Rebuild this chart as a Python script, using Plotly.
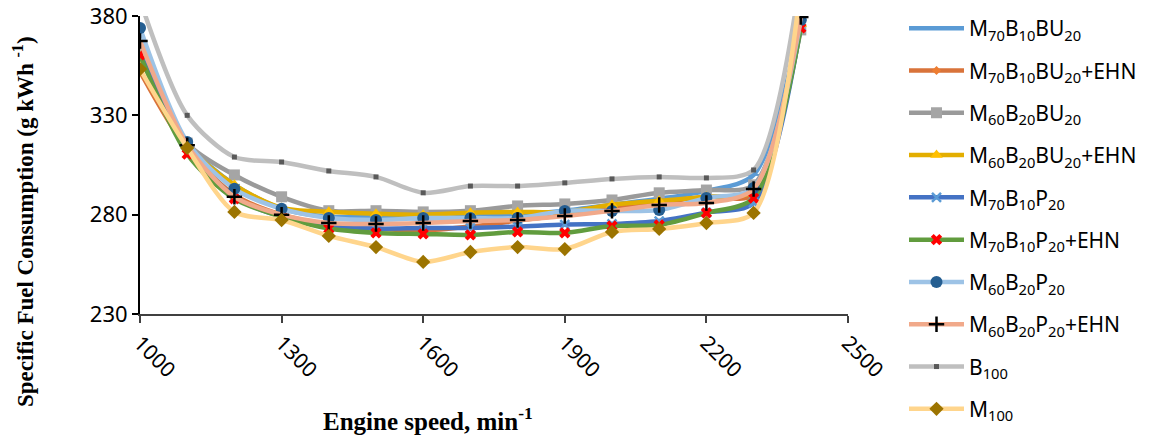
import plotly.graph_objects as go

speed = [1000, 1100, 1200, 1300, 1400, 1500, 1600, 1700, 1800, 1900, 2000, 2100, 2200, 2300, 2400]

m70b10bu20 = [364, 316, 295, 283, 279, 279, 278, 279, 280, 282, 285, 288, 292, 300, 378]
m70b10bu20_ehn = [352, 313, 290, 280, 275, 273, 272, 274, 277, 280, 283, 286, 289, 290, 376]
m60b20bu20 = [363, 316, 300, 289, 282, 282, 281.4, 282, 284.4, 285.4, 287.4, 291, 292.4, 295, 373]
m60b20bu20_ehn = [360, 315, 295, 283.4, 281.5, 280.5, 280, 281, 281.4, 281.4, 285, 287, 289, 292, 376]
m70b10p20 = [361, 314, 289, 279, 274.8, 273, 273.3, 273.3, 274, 275, 275.3, 276.8, 281, 286, 375]
m70b10p20_ehn = [360.4, 310.5, 288, 279, 273, 270.8, 270.3, 269.8, 271.3, 270.8, 274.3, 274.8, 280.9, 288.4, 374]
m60b20p20 = [374, 316.6, 293, 283, 278.3, 277.3, 278.3, 278.3, 278.3, 281.9, 281.9, 282.4, 288.4, 293.4, 378]
m60b20p20_ehn = [367.4, 315, 289, 280, 275.8, 275.3, 275.8, 276.8, 277.3, 279.3, 281.9, 284.9, 285.9, 292.9, 379.5]
b100 = [388, 330, 309, 306.5, 302, 299, 291, 294.4, 294.4, 296, 298, 299, 298.5, 302.5, 400]
m100 = [353.3, 313.6, 281.4, 277.3, 269.3, 263.7, 256.2, 261.2, 263.7, 262.7, 271.3, 272.8, 275.8, 280.9, 395]

names = [
    "M<sub>70</sub>B<sub>10</sub>BU<sub>20</sub>",
    "M<sub>70</sub>B<sub>10</sub>BU<sub>20</sub>+EHN",
    "M<sub>60</sub>B<sub>20</sub>BU<sub>20</sub>",
    "M<sub>60</sub>B<sub>20</sub>BU<sub>20</sub>+EHN",
    "M<sub>70</sub>B<sub>10</sub>P<sub>20</sub>",
    "M<sub>70</sub>B<sub>10</sub>P<sub>20</sub>+EHN",
    "M<sub>60</sub>B<sub>20</sub>P<sub>20</sub>",
    "M<sub>60</sub>B<sub>20</sub>P<sub>20</sub>+EHN",
    "B<sub>100</sub>",
    "M<sub>100</sub>",
]
series = [m70b10bu20, m70b10bu20_ehn, m60b20bu20, m60b20bu20_ehn, m70b10p20,
          m70b10p20_ehn, m60b20p20, m60b20p20_ehn, b100, m100]

styles = [
    dict(line="#5B9BD5", marker=dict(symbol="line-ew", size=8, color="#5B9BD5", line=dict(color="#5B9BD5", width=2))),
    dict(line="#D9733A", marker=dict(symbol="diamond", size=7, color="#ED7D31")),
    dict(line="#9A9A9A", marker=dict(symbol="square", size=11, color="#A5A5A5")),
    dict(line="#E3AE00", marker=dict(symbol="triangle-up", size=11, color="#FFC000")),
    dict(line="#4472C4", marker=dict(symbol="x-thin", size=9, color="#5B9BD5", line=dict(color="#5B9BD5", width=2.5))),
    dict(line="#619C3E", marker=dict(symbol="x", size=10, color="#FF0000")),
    dict(line="#9DC3E6", marker=dict(symbol="circle", size=12, color="#255E91")),
    dict(line="#F1A98A", marker=dict(symbol="cross-thin", size=11, color="#000000", line=dict(color="#000000", width=2.5))),
    dict(line="#BFBFBF", marker=dict(symbol="square", size=5, color="#595959")),
    dict(line="#FFD58C", marker=dict(symbol="diamond", size=11, color="#9C7400")),
]

fig = go.Figure()
for i, (nm, ys, st) in enumerate(zip(names, series, styles)):
    fig.add_trace(go.Scatter(
        x=speed, y=ys, name=nm, mode="lines+markers",
        line=dict(color=st["line"], width=4.5, shape="spline", smoothing=0.8),
        marker=st["marker"], legendgroup=str(i), cliponaxis=True,
    ))

# page body has an 8px default margin: compensate so the plot area sits at x 140..848, y 16..314
fig.update_layout(
    width=1162, height=438,
    margin=dict(l=132, r=322, t=8, b=132, autoexpand=False),
    paper_bgcolor="white", plot_bgcolor="white",
    font=dict(family="Noto Sans", size=22, color="#000000"),
    showlegend=True,
    legend=dict(x=896 / 1162, y=1.0, xref="container", yref="container",
                xanchor="left", yanchor="top", maxheight=436,
                font=dict(family="Noto Sans", size=21, color="#000000"),
                itemwidth=55, tracegroupgap=12, bgcolor="rgba(0,0,0,0)"),
    xaxis=dict(range=[1000, 2500], tickvals=[1000, 1300, 1600, 1900, 2200, 2500],
               ticktext=["1000", "1300", "1600", "1900", "2200", "2500"],
               tickangle=45, showgrid=False, zeroline=False, automargin=False,
               ticklabeloverflow="allow",
               showline=True, linecolor="#404040", linewidth=1.5,
               ticks="outside", ticklen=7, tickcolor="#404040", tickwidth=1.5,
               tickfont=dict(family="Noto Sans", size=21)),
    yaxis=dict(range=[230, 380], tickvals=[230, 280, 330, 380],
               showgrid=False, zeroline=False, automargin=False,
               ticklabeloverflow="allow",
               showline=True, linecolor="#000000", linewidth=2,
               ticks="outside", ticklen=6, tickcolor="#000000", tickwidth=1.5,
               tickfont=dict(family="Noto Sans", size=22)),
    annotations=[
        dict(text="<b>Engine speed, min<sup>-1</sup></b>", xref="paper", yref="paper",
             x=(428 - 140) / 708, y=(314 - 419) / 298, xanchor="center", yanchor="middle",
             showarrow=False, font=dict(family="Liberation Serif", size=25, color="#000000")),
        dict(text="<b>Specific Fuel Consumption (g kWh <sup>-1</sup>)</b>", xref="paper", yref="paper",
             x=(23 - 140) / 708, y=(314 - 222) / 298, xanchor="center", yanchor="middle",
             textangle=-90, showarrow=False,
             font=dict(family="Liberation Serif", size=23, color="#000000")),
    ],
)

fig.write_html("out.html")
